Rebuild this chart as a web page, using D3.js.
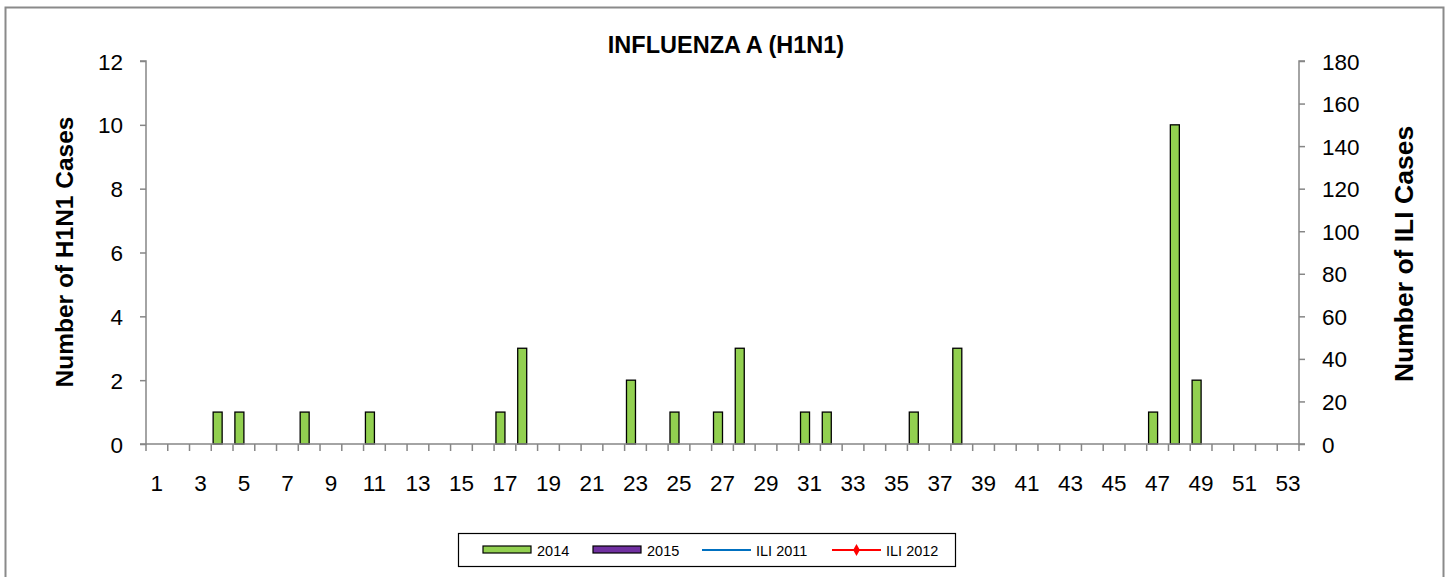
<!DOCTYPE html>
<html><head><meta charset="utf-8">
<script src="https://cdn.jsdelivr.net/npm/d3@7"></script>
<style>body{margin:0;background:#fff;} text{font-family:"Liberation Sans",Arial,sans-serif;}</style>
</head><body>
<svg id="c" width="1453" height="577"></svg>
<script>
const weeks = d3.range(1, 54);
const h1n1_2014 = [0,0,0,1,1,0,0,1,0,0,1,0,0,0,0,0,1,3,0,0,0,0,2,0,1,0,1,3,0,0,1,1,0,0,0,1,0,3,0,0,0,0,0,0,0,0,1,10,2,0,0,0,0];
const h1n1_2015 = [];
const ili2011 = [];
const ili2012 = [];
const leftTicks = [0,2,4,6,8,10,12];
const rightTicks = [0,20,40,60,80,100,120,140,160,180];
const xTickLabels = weeks.filter(w => w % 2 === 1);

const svg = d3.select("#c");
const axisColor = "#868686";
svg.append("rect").attr("x",5.5).attr("y",7.5).attr("width",1438).attr("height",600)
  .attr("fill","#fff").attr("stroke","#8a8a8a").attr("stroke-width",2);

const L = 146, R = 1299, T = 61, B = 444;
const x = d3.scaleBand().domain(weeks).range([L, R]).paddingInner(0).paddingOuter(0);
const yL = d3.scaleLinear().domain([0,12]).range([B, T]);
const yR = d3.scaleLinear().domain([0,180]).range([B, T]);

// bars
const bw = 9;
svg.append("g").selectAll("rect").data(weeks.map((w,i)=>({w, v:h1n1_2014[i]})).filter(d=>d.v>0))
  .join("rect")
  .attr("x", d => x(d.w) + x.bandwidth()/2 - bw)
  .attr("y", d => yL(d.v))
  .attr("width", bw)
  .attr("height", d => B - yL(d.v))
  .attr("fill", "#92d050").attr("stroke", "#000").attr("stroke-width", 1.3);

// left axis
const gl = svg.append("g").attr("transform",`translate(${L},0)`)
  .call(d3.axisLeft(yL).tickValues(leftTicks).tickSize(6).tickPadding(17));
gl.select(".domain").attr("stroke",axisColor).attr("stroke-width",1.5).attr("d",`M-6,${T}H0V${B}H-6`);
gl.selectAll(".tick line").attr("stroke",axisColor).attr("stroke-width",1.5);
gl.selectAll(".tick text").attr("font-size",22.5).attr("fill","#000").attr("dy","0.36em");

// right axis
const gr = svg.append("g").attr("transform",`translate(${R},0)`)
  .call(d3.axisRight(yR).tickValues(rightTicks).tickSize(6).tickPadding(17));
gr.select(".domain").attr("stroke",axisColor).attr("stroke-width",1.5).attr("d",`M6,${T}H0V${B}H6`);
gr.selectAll(".tick line").attr("stroke",axisColor).attr("stroke-width",1.5);
gr.selectAll(".tick text").attr("font-size",22.5).attr("fill","#000").attr("dy","0.36em");

// x axis
const gx = svg.append("g").attr("transform",`translate(0,${B})`);
gx.append("line").attr("x1",L).attr("x2",R).attr("stroke",axisColor).attr("stroke-width",1.5);
gx.selectAll("line.t").data(weeks.concat([54])).join("line").attr("class","t")
  .attr("x1", w => w===54 ? R : x(w)).attr("x2", w => w===54 ? R : x(w))
  .attr("y1",0).attr("y2",7).attr("stroke",axisColor).attr("stroke-width",1.5);
gx.selectAll("text").data(xTickLabels).join("text")
  .attr("x", w => x(w) + x.bandwidth()/2).attr("y", 47)
  .attr("text-anchor","middle").attr("font-size",22.5).text(d => d);

// titles
svg.append("text").attr("x",726).attr("y",53).attr("text-anchor","middle")
  .attr("font-size",23.5).attr("font-weight","bold").text("INFLUENZA A (H1N1)");
svg.append("text").attr("transform","translate(73,252) rotate(-90)").attr("text-anchor","middle")
  .attr("font-size",24.5).attr("font-weight","bold").text("Number of H1N1 Cases");
svg.append("text").attr("transform","translate(1413,254) rotate(-90)").attr("text-anchor","middle")
  .attr("font-size",26.5).attr("font-weight","bold").text("Number of ILI Cases");

// legend
const lg = svg.append("g");
lg.append("rect").attr("x",458.5).attr("y",533.5).attr("width",497).attr("height",33)
  .attr("fill","#fff").attr("stroke","#000").attr("stroke-width",1.2);
const items = [
  {name:"2014", type:"bar", color:"#92d050", x:483},
  {name:"2015", type:"bar", color:"#7030a0", x:593},
  {name:"ILI 2011", type:"line", color:"#0070c0", x:702},
  {name:"ILI 2012", type:"marker", color:"#ff0000", x:832}
];
const ly = 550;
items.forEach(it => {
  if (it.type === "bar") {
    lg.append("rect").attr("x",it.x).attr("y",ly-4).attr("width",48).attr("height",7)
      .attr("fill",it.color).attr("stroke","#000").attr("stroke-width",1.2);
  } else {
    lg.append("line").attr("x1",it.x).attr("x2",it.x+49).attr("y1",ly).attr("y2",ly)
      .attr("stroke",it.color).attr("stroke-width",2.2);
    if (it.type === "marker") {
      lg.append("path").attr("d",d3.symbol(d3.symbolDiamond, 40)())
        .attr("transform",`translate(${it.x+24.5},${ly})`).attr("fill",it.color);
    }
  }
  lg.append("text").attr("x",it.x+54).attr("y",ly+5.5).attr("font-size",14.5).text(it.name);
});
</script>
</body></html>
